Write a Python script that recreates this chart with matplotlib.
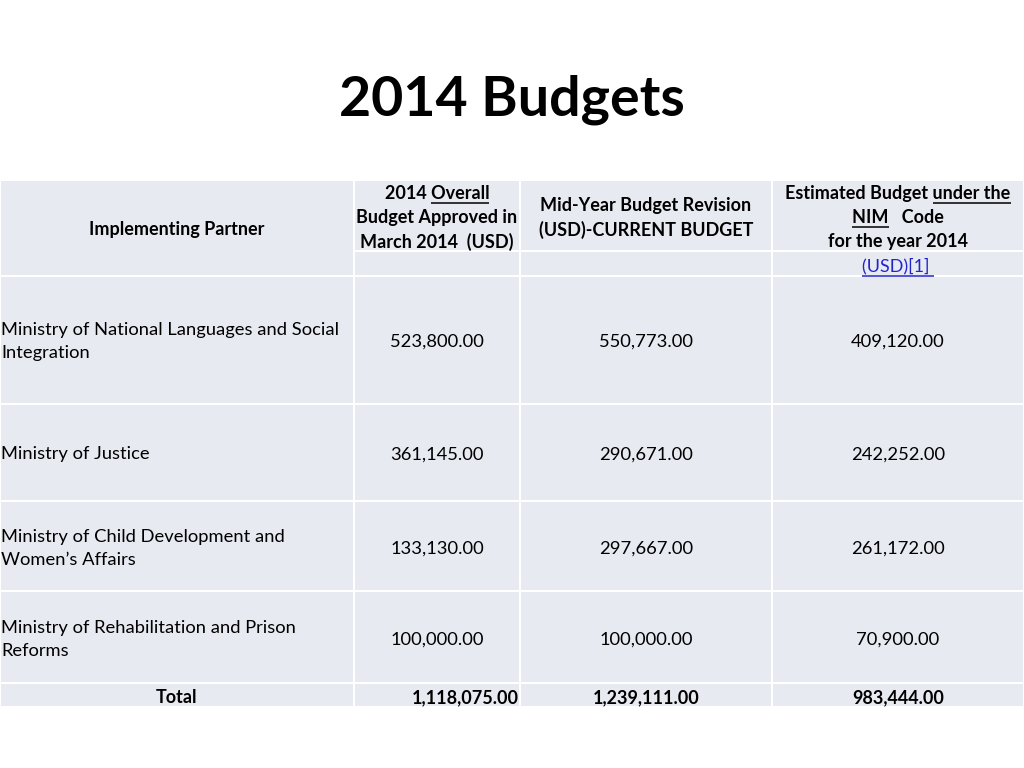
import matplotlib
matplotlib.use("Agg")
import matplotlib.pyplot as plt
from matplotlib.patches import Rectangle

# ---- data ----
title = "2014 Budgets"
partners = [
    "Ministry of National Languages and Social\nIntegration",
    "Ministry of Justice",
    "Ministry of Child Development and\nWomen\u2019s Affairs",
    "Ministry of Rehabilitation and Prison\nReforms",
]
approved = [523800.00, 361145.00, 133130.00, 100000.00]
midyear = [550773.00, 290671.00, 297667.00, 100000.00]
estimated = [409120.00, 242252.00, 261172.00, 70900.00]
total_label = "Total"
col_header_0 = "Implementing Partner"

# ---- layout (pixels) ----
W, H = 1024, 768
FONT = "Lato"
CELL = "#E8EAF2"
fig = plt.figure(figsize=(W / 100, H / 100), dpi=100)
ax = fig.add_axes([0, 0, 1, 1])
ax.set_xlim(0, W)
ax.set_ylim(H, 0)
ax.axis("off")

col_x = [0, 354, 520, 772, 1024]
row_y = [180, 251, 276, 404, 501, 591, 683, 707]
GAP = 1.0

def cell(x0, x1, y0, y1):
    ax.add_patch(Rectangle((x0 + GAP, y0 + GAP), x1 - x0 - 2 * GAP, y1 - y0 - 2 * GAP,
                           facecolor=CELL, edgecolor="none"))

# header cells
cell(col_x[0], col_x[1], row_y[0], row_y[2])
for c in range(1, 4):
    cell(col_x[c], col_x[c + 1], row_y[0], row_y[1])
    cell(col_x[c], col_x[c + 1], row_y[1], row_y[2])
# body + total
for r in range(2, 7):
    for c in range(4):
        cell(col_x[c], col_x[c + 1], row_y[r], row_y[r + 1])

ax.text(W / 2, 100, title, ha="center", va="center", fontsize=40, fontweight="bold",
        family=FONT, color="black")

FS = 13.2   # body
HFS = 13.0  # header
DY = 1.5    # small downward nudge
fig.canvas.draw()
renderer = fig.canvas.get_renderer()

def text_width(s, bold):
    t = ax.text(0, 0, s, fontsize=HFS, family=FONT, fontweight="bold" if bold else "normal")
    bb = t.get_window_extent(renderer=renderer)
    t.remove()
    return bb.width

def prefix_width(s, bold):
    if not s:
        return 0.0
    return text_width(s + "|", bold) - text_width("|", bold)

def line_with_underline(xc, y, s, under=None, bold=True, color="black"):
    y = y + DY
    ax.text(xc, y, s, ha="center", va="center", fontsize=HFS, family=FONT,
            fontweight="bold" if bold else "normal", color=color)
    if under is not None:
        total = text_width(s, bold)
        i = s.index(under)
        x0 = xc - total / 2 + prefix_width(s[:i], bold)
        x1 = x0 + text_width(under, bold)
        ax.plot([x0, x1], [y + 9, y + 9], color=color, lw=1.1, solid_capstyle="butt")

# header texts
ax.text((col_x[0] + col_x[1]) / 2, 228 + DY, col_header_0, ha="center", va="center",
        fontsize=HFS, family=FONT, fontweight="bold")
c1 = (col_x[1] + col_x[2]) / 2
line_with_underline(c1, 192, "2014 Overall", under="Overall")
line_with_underline(c1, 216, "Budget Approved in")
line_with_underline(c1, 240, "March 2014  (USD)")
c2 = (col_x[2] + col_x[3]) / 2
line_with_underline(c2, 204, "Mid-Year Budget Revision")
line_with_underline(c2, 228, "(USD)-CURRENT BUDGET")
c3 = (col_x[3] + col_x[4]) / 2
line_with_underline(c3, 192, "Estimated Budget under the", under="under the")
line_with_underline(c3, 216, "NIM   Code", under="NIM")
line_with_underline(c3, 240, "for the year 2014")
line_with_underline(c3, 265, "(USD)[1] ", under="(USD)[1] ", bold=False, color="#2424CC")

def fmt(v):
    return f"{v:,.2f}"

# body
row_centers = [340, 453, 547, 638]
for r, name in enumerate(partners):
    yc = row_centers[r] + DY
    ax.text(1, yc, name, ha="left", va="center", fontsize=FS, family=FONT,
            linespacing=1.55)
    for c, vals in enumerate([approved, midyear, estimated]):
        xc = (col_x[c + 1] + col_x[c + 2]) / 2
        ax.text(xc, yc, fmt(vals[r]), ha="center", va="center", fontsize=FS, family=FONT)

# total row
ty = (row_y[6] + row_y[7]) / 2 + 1 + DY
ax.text((col_x[0] + col_x[1]) / 2, ty, total_label, ha="center", va="center",
        fontsize=HFS, family=FONT, fontweight="bold")
ax.text(col_x[2] - 1, ty, fmt(sum(approved)), ha="right", va="center",
        fontsize=HFS, family=FONT, fontweight="bold")
ax.text((col_x[2] + col_x[3]) / 2, ty, fmt(sum(midyear)), ha="center", va="center",
        fontsize=HFS, family=FONT, fontweight="bold")
ax.text((col_x[3] + col_x[4]) / 2, ty, fmt(sum(estimated)), ha="center", va="center",
        fontsize=HFS, family=FONT, fontweight="bold")

fig.savefig("out.png", dpi=100)
